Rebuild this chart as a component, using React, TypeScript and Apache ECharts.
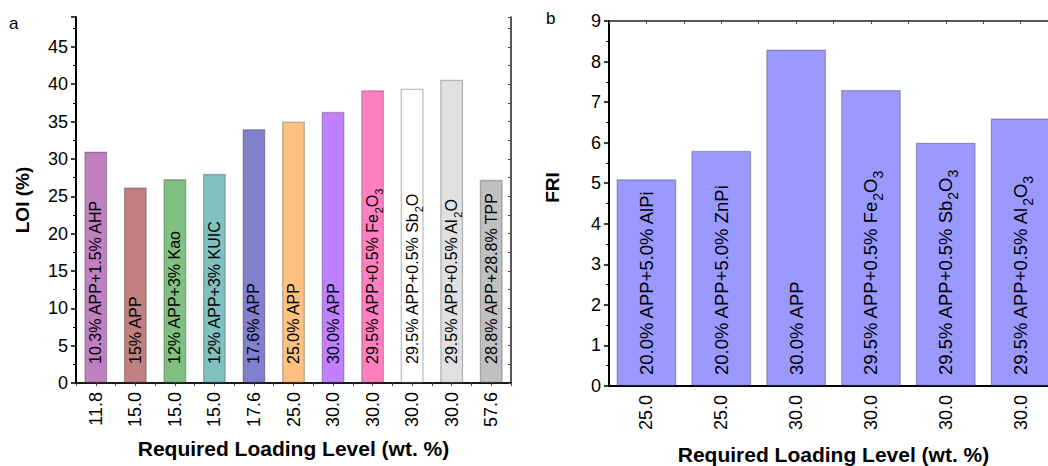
import React, { useEffect, useRef } from "react";
import * as echarts from "echarts";

const leftLoading = ["11.8", "15.0", "15.0", "15.0", "17.6", "25.0", "30.0", "30.0", "30.0", "30.0", "57.6"];
const leftLOI = [31.0, 26.2, 27.3, 28.0, 34.0, 35.0, 36.3, 39.2, 39.4, 40.6, 27.2];
const leftLabels = [
  "10.3% APP+1.5% AHP",
  "15% APP",
  "12% APP+3% Kao",
  "12% APP+3% KUIC",
  "17.6% APP",
  "25.0% APP",
  "30.0% APP",
  "29.5% APP+0.5% Fe{s|2}O{s|3}",
  "29.5% APP+0.5% Sb{s|2}O",
  "29.5% APP+0.5% Al{s|2}O",
  "28.8% APP+28.8% TPP",
];
const leftColors = ["#C080C0", "#C08080", "#80C080", "#80C0C0", "#8080CC", "#FFC080", "#C080FF", "#FF80C0", "#FFFFFF", "#E0E0E0", "#C0C0C0"];

const rightLoading = ["25.0", "25.0", "30.0", "30.0", "30.0", "30.0"];
const rightFRI = [5.1, 5.8, 8.3, 7.3, 6.0, 6.6];
const rightLabels = [
  "20.0% APP+5.0% AlPi",
  "20.0% APP+5.0% ZnPi",
  "30.0% APP",
  "29.5% APP+0.5% Fe{s|2}O{s|3}",
  "29.5% APP+0.5% Sb{s|2}O{s|3}",
  "29.5% APP+0.5% Al{s|2}O{s|3}",
];
const rightColor = "#9999FF";

const FONT = "Liberation Sans, Arial, sans-serif";

export default function App() {
  const ref = useRef<HTMLDivElement>(null);
  useEffect(() => {
    if (!ref.current) return;
    const chart = echarts.init(ref.current, undefined, { renderer: "svg" });
    const black = "#000";
    const tickLabel = { color: black, fontSize: 18, fontFamily: FONT };
    const option: any = {
      animation: false,
      textStyle: { fontFamily: FONT },
      grid: [
        { left: 76, top: 17, right: 1060 - 511, bottom: 466 - 383, outerBoundsMode: "none", containLabel: false },
        { left: 609, top: 21, right: 1060 - 1058, bottom: 466 - 386, outerBoundsMode: "none", containLabel: false },
      ],
      graphic: [
        { type: "text", left: 9, top: 15, style: { text: "a", fontSize: 17, fontFamily: FONT, fill: black } },
        { type: "text", left: 546, top: 10, style: { text: "b", fontSize: 17, fontFamily: FONT, fill: black } },
      ],
      xAxis: [
        {
          type: "category",
          gridIndex: 0,
          data: leftLoading,
          axisLine: { lineStyle: { color: black, width: 2 } },
          axisTick: { alignWithLabel: true, length: 5, lineStyle: { color: black, width: 1.5 } },
          axisLabel: { ...tickLabel, rotate: 90, margin: 9 },
          name: "Required Loading Level (wt. %)",
          nameLocation: "middle",
          nameGap: 55,
          nameTextStyle: { fontSize: 21, fontWeight: "bold", color: black, fontFamily: FONT },
        },
        {
          type: "value",
          gridIndex: 0,
          position: "top",
          min: 0,
          max: 11,
          interval: 0.5,
          axisLine: { show: true, lineStyle: { color: "#222", width: 1.5 } },
          axisTick: { show: true, inside: true, length: 3, lineStyle: { color: "#444" } },
          axisLabel: { show: false },
          splitLine: { show: false },
        },
        {
          type: "category",
          gridIndex: 1,
          data: rightLoading,
          axisLine: { lineStyle: { color: black, width: 2 } },
          axisTick: { alignWithLabel: true, length: 5, lineStyle: { color: black, width: 1.5 } },
          axisLabel: { ...tickLabel, rotate: 90, margin: 9 },
          name: "Required Loading Level (wt. %)",
          nameLocation: "middle",
          nameGap: 58,
          nameTextStyle: { fontSize: 21, fontWeight: "bold", color: black, fontFamily: FONT },
        },
        {
          type: "value",
          gridIndex: 1,
          position: "top",
          min: 0,
          max: 6,
          interval: 0.5,
          axisLine: { show: true, lineStyle: { color: "#222", width: 1.5 } },
          axisTick: { show: true, inside: true, length: 3, lineStyle: { color: "#444" } },
          axisLabel: { show: false },
          splitLine: { show: false },
        },
      ],
      yAxis: [
        {
          type: "value",
          gridIndex: 0,
          min: 0,
          max: 49,
          interval: 5,
          axisLine: { show: true, lineStyle: { color: black, width: 2 } },
          axisTick: { show: true, length: 5, lineStyle: { color: black, width: 1.5 } },
          minorTick: { show: true, splitNumber: 2, length: 3, lineStyle: { color: black, width: 1 } },
          axisLabel: { ...tickLabel, margin: 8, showMaxLabel: false },
          splitLine: { show: false },
          name: "LOI (%)",
          nameLocation: "middle",
          nameGap: 44,
          nameTextStyle: { fontSize: 19, fontWeight: "bold", color: black, fontFamily: FONT },
        },
        {
          type: "value",
          gridIndex: 0,
          position: "right",
          min: 0,
          max: 49,
          interval: 2.5,
          axisLine: { show: true, lineStyle: { color: "#222", width: 1.5 } },
          axisTick: { show: true, inside: true, length: 3, lineStyle: { color: "#444" } },
          axisLabel: { show: false },
          splitLine: { show: false },
        },
        {
          type: "value",
          gridIndex: 1,
          min: 0,
          max: 9,
          interval: 1,
          axisLine: { show: true, lineStyle: { color: black, width: 2 } },
          axisTick: { show: true, length: 5, lineStyle: { color: black, width: 1.5 } },
          minorTick: { show: true, splitNumber: 2, length: 3, lineStyle: { color: black, width: 1 } },
          axisLabel: { ...tickLabel, margin: 8 },
          splitLine: { show: false },
          name: "FRI",
          nameLocation: "middle",
          nameGap: 47,
          nameTextStyle: { fontSize: 19, fontWeight: "bold", color: black, fontFamily: FONT, padding: [0, 0, 0, 32] },
        },
      ],
      series: [
        {
          type: "bar",
          xAxisIndex: 0,
          yAxisIndex: 0,
          barCategoryGap: "42%",
          data: leftLOI.map((v, i) => ({
            value: v,
            itemStyle: { color: leftColors[i], borderColor: "rgba(0,0,0,0.25)", borderWidth: 1.3 },
          })),
          label: {
            show: true,
            position: "insideBottom",
            rotate: 90,
            align: "left",
            verticalAlign: "middle",
            distance: 19,
            fontSize: 16,
            fontFamily: FONT,
            color: black,
            formatter: (p: any) => leftLabels[p.dataIndex],
            rich: { s: { fontSize: 11, fontFamily: FONT, color: black, verticalAlign: "bottom", padding: [0, 0, -4, 0] } },
          },
        },
        {
          type: "bar",
          xAxisIndex: 2,
          yAxisIndex: 2,
          barCategoryGap: "20%",
          data: rightFRI.map((v) => ({
            value: v,
            itemStyle: { color: rightColor, borderColor: "rgba(0,0,0,0.25)", borderWidth: 1.3 },
          })),
          label: {
            show: true,
            position: "insideBottom",
            rotate: 90,
            align: "left",
            verticalAlign: "middle",
            distance: 11,
            fontSize: 18.5,
            fontFamily: FONT,
            color: black,
            formatter: (p: any) => rightLabels[p.dataIndex],
            rich: { s: { fontSize: 14, fontFamily: FONT, color: black, verticalAlign: "bottom", padding: [0, 0, -5, 0] } },
          },
        },
      ],
    };
    chart.setOption(option);
    return () => chart.dispose();
  }, []);
  return (
    <div style={{ position: "fixed", left: 0, top: 0, width: 1048, height: 466, overflow: "hidden", background: "#fff" }}>
      <div ref={ref} style={{ width: 1060, height: 466 }} />
    </div>
  );
}
